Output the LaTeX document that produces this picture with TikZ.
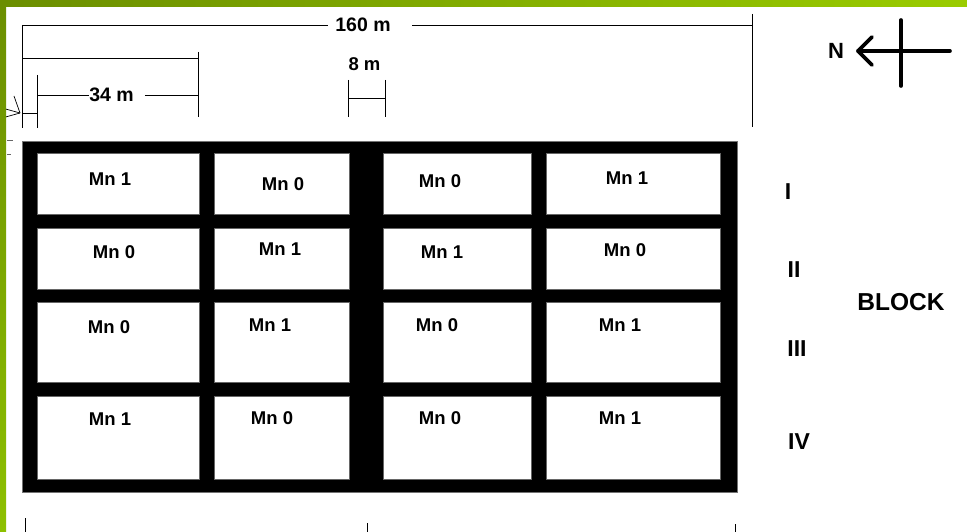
\documentclass[tikz,border=0pt]{standalone}
\usepackage{fontspec}
\setmainfont{Liberation Sans}
\definecolor{oliveA}{HTML}{6B8E00}
\definecolor{oliveB}{HTML}{9ACC00}
\definecolor{oliveC}{HTML}{8DC000}
\begin{document}
\begin{tikzpicture}[x=1pt,y=-1pt,
  lbl/.style={font=\bfseries\fontsize{18.5}{18.5}\selectfont, inner sep=0pt},
  dimlbl/.style={font=\bfseries\fontsize{19.5}{19.5}\selectfont, inner sep=0pt},
  biglbl/.style={font=\bfseries\fontsize{23}{23}\selectfont, inner sep=0pt},
  dimline/.style={draw=black, line width=0.9pt},
  cell/.style={fill=white, draw=black!60, line width=0.6pt},
  compass/.style={draw=black, line width=3.6pt, line cap=round, line join=round}]
\useasboundingbox (0,0) rectangle (967,532);
\fill[white] (0,0) rectangle (967,532);

% small scribble arrow at left (partly hidden by border)
\coordinate (sa) at (20,113);
\draw[line width=0.7pt] (14,96) -- (sa);
\draw[line width=0.7pt] (2,108) -- (sa);
\draw[line width=0.7pt] (2,118) -- (sa);
\draw[draw=black!60, line width=0.8pt] (7,140) -- (13,140);
\draw[draw=black!60, line width=0.8pt] (7,154) -- (11,154);

% field
\fill[black] (22,141) rectangle (737,492);
\draw[black!55, line width=0.6pt] (22,141) rectangle (737,492);

% cells
\foreach \c/\xa/\xb in {1/37/199, 2/214/349, 3/383/531, 4/546/720}{
  \foreach \r/\ya/\yb in {1/153/214, 2/228/289, 3/302/382, 4/396/479}{
    \draw[cell] (\xa,\ya) rectangle (\xb,\yb);
  }
}

% cell labels
\node[lbl] (m11) at (110,179) {Mn 1};
\node[lbl] (m12) at (283,184) {Mn 0};
\node[lbl] (m13) at (440,181) {Mn 0};
\node[lbl] (m14) at (627,178) {Mn 1};
\node[lbl] (m21) at (114,252) {Mn 0};
\node[lbl] (m22) at (280,249) {Mn 1};
\node[lbl] (m23) at (442,252) {Mn 1};
\node[lbl] (m24) at (625,250) {Mn 0};
\node[lbl] (m31) at (109,327) {Mn 0};
\node[lbl] (m32) at (270,325) {Mn 1};
\node[lbl] (m33) at (437,325) {Mn 0};
\node[lbl] (m34) at (620,325) {Mn 1};
\node[lbl] (m41) at (110,419) {Mn 1};
\node[lbl] (m42) at (272,418) {Mn 0};
\node[lbl] (m43) at (440,418) {Mn 0};
\node[lbl] (m44) at (620,418) {Mn 1};

% block labels
\node[biglbl] (b1) at (788,192) {I};
\node[biglbl] (b2) at (794,270) {II};
\node[biglbl] (b3) at (797,349) {III};
\node[biglbl] (b4) at (799,442) {IV};
\node[biglbl, font=\bfseries\fontsize{24.5}{24.5}\selectfont] (blk) at (901,302) {BLOCK};

% dimension: 160 m
\coordinate (tl) at (22.7,25);
\coordinate (tlb) at (22.7,128);
\coordinate (tr) at (752,25);
\coordinate (trt) at (752,14);
\coordinate (trb) at (752,127);
\node[dimlbl] (d160) at (363,25) {160 m};
\draw[dimline] (tl) -- (328,25);
\draw[dimline] (412,25) -- (tr);
\draw[dimline] (tl) -- (tlb);
\draw[dimline] (trt) -- (trb);

% dimension: outer 34 m bracket
\coordinate (a1) at (23,58);
\coordinate (a2) at (198,58);
\coordinate (a2t) at (198,52);
\coordinate (a2b) at (198,117);
\draw[dimline] (a1) -- (a2);
\draw[dimline] (a2t) -- (a2b);
\coordinate (b1t) at (37,75);
\coordinate (b1b) at (37,128);
\draw[dimline] (b1t) -- (b1b);
\node[dimlbl] (d34) at (111.5,95) {34 m};
\draw[dimline] (37,95) -- (d34.west);
\draw[dimline] ([xshift=11pt]d34.east) -- (198,95);
\draw[dimline] (22.7,113) -- (37,113);

% dimension: 8 m
\node[dimlbl, font=\bfseries\fontsize{18.5}{18.5}\selectfont] (d8) at (364.5,64) {8 m};
\coordinate (e1t) at (348,80);
\coordinate (e1b) at (348,117);
\coordinate (e2t) at (385,80);
\coordinate (e2b) at (385,117);
\draw[dimline] (e1t) -- (e1b);
\draw[dimline] (e2t) -- (e2b);
\draw[dimline] (348,98) -- (385,98);

% bottom ticks
\draw[dimline] (25,518) -- (25,532);
\draw[dimline] (367,523) -- (367,532);
\draw[dimline] (735,524) -- (735,532);

% north arrow
\node[font=\bfseries\fontsize{22}{22}\selectfont, inner sep=0pt] (north) at (836,51) {N};
\coordinate (ntip) at (858,51);
\coordinate (nend) at (950,51);
\coordinate (nct) at (901,20);
\coordinate (ncb) at (901,86);
\draw[compass] (nend) -- (ntip);
\draw[compass] (872,37) -- (ntip) -- (872,65);
\draw[compass] (nct) -- (ncb);

% green border
\shade[left color=oliveA, right color=oliveB] (0,0) rectangle (967,7);
\shade[top color=oliveA, bottom color=oliveC] (0,0) rectangle (6,532);
\end{tikzpicture}
\end{document}
